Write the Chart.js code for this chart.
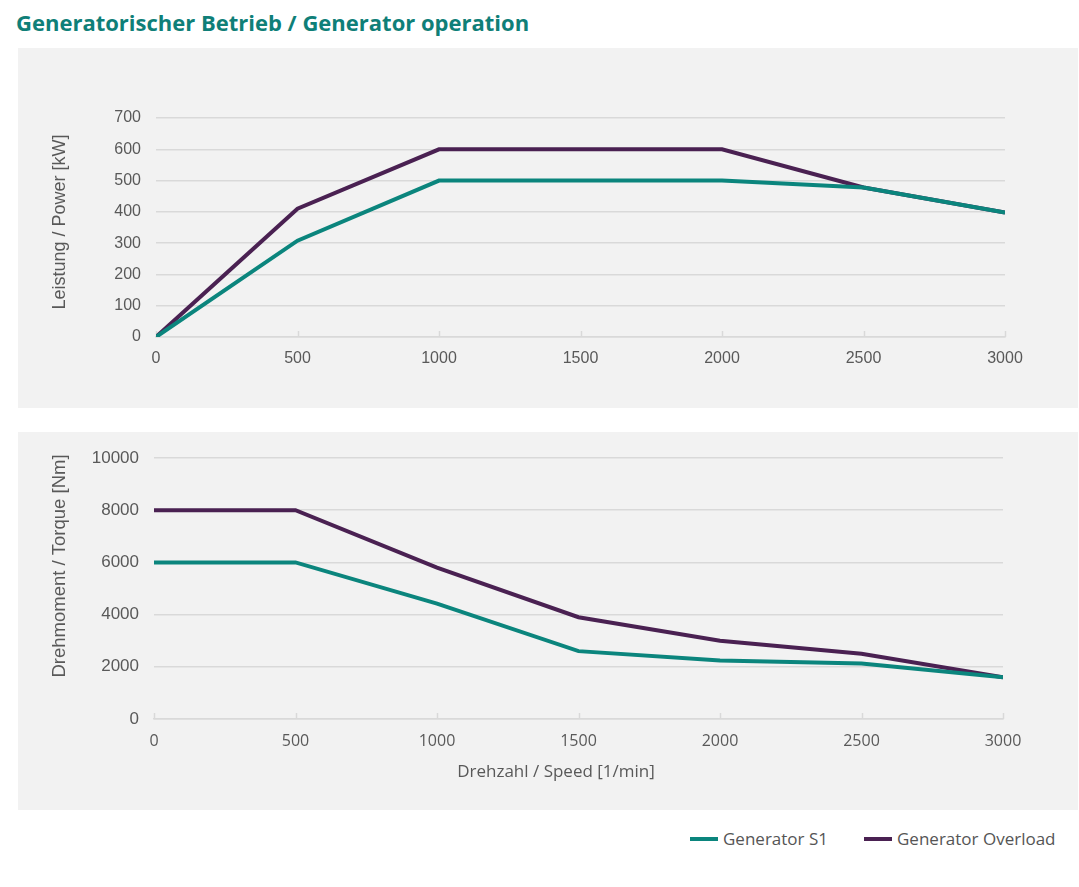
<!DOCTYPE html>
<html>
<head>
<meta charset="utf-8">
<script src="https://cdn.jsdelivr.net/npm/chart.js@4.4.1/dist/chart.umd.min.js"></script>
<style>
  body { margin: 0; background: #fff; width: 1079px; height: 887px; position: relative; overflow: hidden; }
  .title { position: absolute; left: 16px; top: 8px; font: bold 22px "Open Sans", sans-serif; color: #0f7f78; line-height: 28px; white-space: nowrap; }
  .panel { position: absolute; left: 18px; width: 1060px; background: #f2f2f2; }
  .legend { position: absolute; top: 828px; font: 17px "Open Sans", sans-serif; color: #555; line-height: 22px; white-space: nowrap; }
  .legend span.swatch { display: inline-block; width: 28px; height: 4px; vertical-align: middle; margin-right: 5px; position: relative; top: -1px; }
</style>
</head>
<body>
<div class="title">Generatorischer Betrieb / Generator operation</div>

<div class="panel" style="top:48px;height:360px;"><canvas id="powerChart" width="1060" height="360"></canvas></div>
<div class="panel" style="top:432px;height:378px;"><canvas id="torqueChart" width="1060" height="378"></canvas></div>

<div class="legend" style="left:690px;"><span class="swatch" style="background:#0b857d"></span>Generator S1</div>
<div class="legend" style="left:864px;"><span class="swatch" style="background:#4a2152"></span>Generator Overload</div>

<script>
// speed in 1/min
const speeds = [0, 500, 1000, 1500, 2000, 2500, 3000];

// power [kW]
const powerS1 = [0, 308, 500, 500, 500, 478, 398];
const powerOverload = [0, 410, 600, 600, 600, 478, 398];

// torque [Nm]
const torqueS1 = [6000, 6000, 4420, 2600, 2240, 2130, 1600];
const torqueOverload = [8000, 8000, 5800, 3900, 3000, 2500, 1600];

const seriesNames = ['Generator S1', 'Generator Overload'];
const teal = '#0b857d';
const purple = '#4a2152';
const gridColor = '#d9d9d9';
const tickColor = '#595959';

const pts = (vals) => speeds.map((s, i) => ({ x: s, y: vals[i] }));

// small tick marks on the x axis, pointing up into the plot
const upTicks = {
  id: 'upTicks',
  beforeDatasetsDraw(chart) {
    const { ctx, chartArea, scales } = chart;
    ctx.save();
    ctx.strokeStyle = gridColor;
    ctx.lineWidth = 1.5;
    scales.x.ticks.forEach(t => {
      const x = Math.round(scales.x.getPixelForValue(t.value)) + 0.5;
      ctx.beginPath();
      ctx.moveTo(x, chartArea.bottom);
      ctx.lineTo(x, chartArea.bottom - 6);
      ctx.stroke();
    });
    ctx.restore();
  }
};

// axis titles drawn where the original has them (not centred on the plot)
const axisTitles = {
  id: 'axisTitles',
  afterDraw(chart, args, o) {
    const ctx = chart.ctx;
    ctx.save();
    ctx.fillStyle = tickColor;
    ctx.textAlign = 'center';
    ctx.textBaseline = 'middle';
    if (o.y) {
      ctx.save();
      ctx.font = o.y.font;
      ctx.translate(o.y.x, o.y.y);
      ctx.rotate(-Math.PI / 2);
      ctx.fillText(o.y.text, 0, 0);
      ctx.restore();
    }
    if (o.x) {
      ctx.font = o.x.font;
      ctx.fillText(o.x.text, o.x.x, o.x.y);
    }
    ctx.restore();
  }
};

function makeChart(id, s1, ov, yMax, yStep, opts) {
  return new Chart(document.getElementById(id), {
    type: 'line',
    data: {
      datasets: [
        { label: seriesNames[0], data: pts(s1), borderColor: teal, backgroundColor: teal, borderWidth: 4, pointRadius: 0, tension: 0 },
        { label: seriesNames[1], data: pts(ov), borderColor: purple, backgroundColor: purple, borderWidth: 4, pointRadius: 0, tension: 0 }
      ]
    },
    options: {
      responsive: false,
      animation: false,
      layout: { padding: opts.padding },
      plugins: { legend: { display: false }, tooltip: { enabled: false }, axisTitles: opts.titles },
      scales: {
        x: {
          type: 'linear', min: 0, max: 3000,
          ticks: { stepSize: 500, padding: opts.xPad, color: tickColor, font: { family: opts.xFont, size: 16 }, callback: v => String(v) },
          grid: { drawOnChartArea: false, drawTicks: false },
          border: { display: true, color: gridColor, width: 1.5 },
          afterFit(scale) { scale.height = opts.xHeight; }
        },
        y: {
          min: 0, max: yMax,
          ticks: { stepSize: yStep, padding: 15, color: tickColor, font: { family: '"Liberation Sans"', size: opts.yFontSize }, callback: v => String(v) },
          grid: { color: gridColor, lineWidth: 1.5, drawTicks: false },
          border: { display: false },
          afterFit(scale) { scale.width = opts.yWidth; }
        }
      }
    },
    plugins: [upTicks, axisTitles]
  });
}

makeChart('powerChart', powerS1, powerOverload, 700, 100, {
  padding: { left: 0, top: 70, right: 73, bottom: 31 },
  yWidth: 138, xHeight: 40, xPad: 12, xFont: '"Liberation Sans"', yFontSize: 16,
  titles: { y: { text: 'Leistung / Power [kW]', x: 42, y: 174, font: '18px "Liberation Sans"' } }
});

makeChart('torqueChart', torqueS1, torqueOverload, 10000, 2000, {
  padding: { left: 0, top: 26, right: 75, bottom: 24 },
  yWidth: 136, xHeight: 67, xPad: 13, xFont: '"Open Sans"', yFontSize: 17,
  titles: {
    y: { text: 'Drehmoment / Torque [Nm]', x: 42, y: 134, font: '18.5px "Liberation Sans"' },
    x: { text: 'Drehzahl / Speed [1/min]', x: 538, y: 340, font: '17px "Open Sans"' }
  }
});
</script>
</body>
</html>
